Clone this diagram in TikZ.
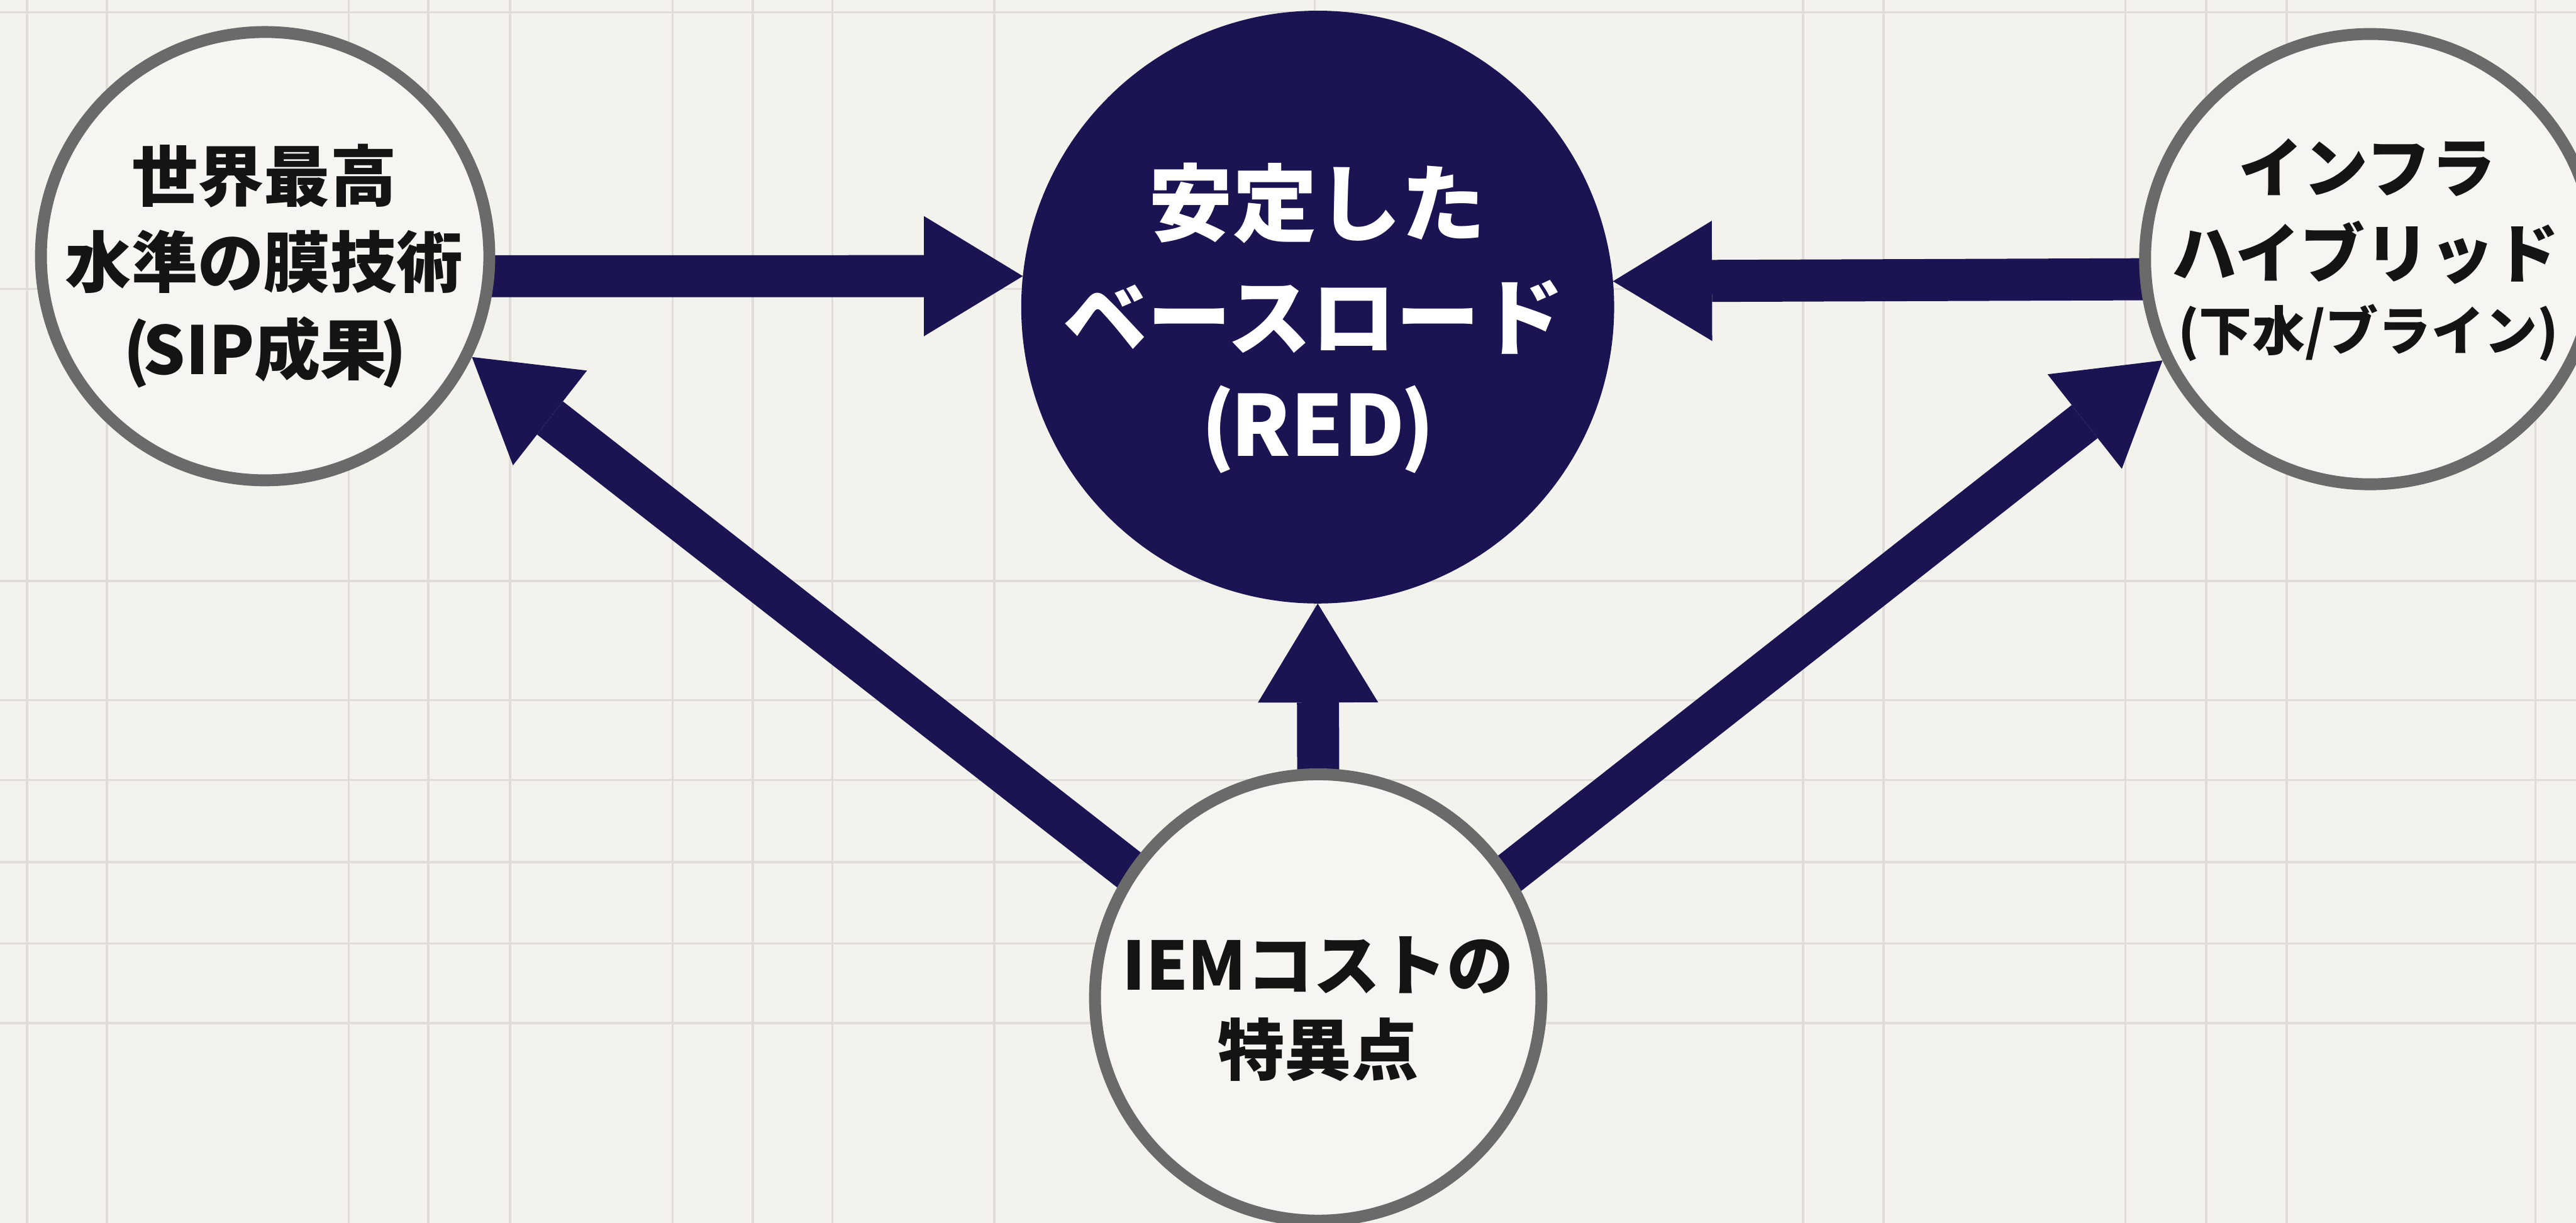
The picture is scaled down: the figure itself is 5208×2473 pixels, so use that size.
\documentclass[tikz,border=0pt]{standalone}
\usepackage{fontspec}
\setmainfont{Noto Sans CJK JP}
\usetikzlibrary{arrows.meta}
\definecolor{bg}{HTML}{F4F2ED}
\definecolor{gridc}{HTML}{E0DDD8}
\definecolor{navy}{HTML}{1B1452}
\definecolor{ringc}{HTML}{6A6A6A}
\definecolor{disc}{HTML}{F6F5F1}
\definecolor{ink}{HTML}{141414}
\pgfdeclarelayer{gridlayer}
\pgfdeclarelayer{arrowlayer}
\pgfsetlayers{gridlayer,arrowlayer,main}
\begin{document}
\begin{tikzpicture}[x=0.01cm,y=-0.01cm,
  ringnode/.style={circle, draw=ringc, fill=disc, line width=0.24cm, inner sep=0pt},
  hubnode/.style={circle, fill=navy, inner sep=0pt, outer sep=0pt},
  flow/.style={draw=navy, line width=0.85cm, shorten <=-0.4cm,
    -{Triangle[length=2cm,width=2.43cm,line width=0pt]}},
  gl/.style={draw=gridc, line width=0.045cm},
  lblS/.style={font=\fontsize{38.13pt}{40pt}\selectfont\bfseries, text=ink,
    text height=33.55pt, text depth=4.58pt, inner sep=0pt},
  lblR/.style={font=\fontsize{48.37pt}{50pt}\selectfont\bfseries, text=white,
    text height=42.57pt, text depth=5.80pt, inner sep=0pt},
  lblI/.style={font=\fontsize{37.27pt}{40pt}\selectfont\bfseries, text=ink,
    text height=32.80pt, text depth=4.47pt, inner sep=0pt},
  lblIs/.style={font=\fontsize{30.44pt}{32pt}\selectfont\bfseries, text=ink,
    text height=26.79pt, text depth=3.65pt, inner sep=0pt},
  lblE/.style={font=\fontsize{38.41pt}{40pt}\selectfont\bfseries, text=ink,
    text height=33.80pt, text depth=4.61pt, inner sep=0pt}
]
\useasboundingbox (0,0) rectangle (5208,2473);
\begin{pgfonlayer}{gridlayer}
\fill[bg] (0,0) rectangle (5208,2473);
\foreach \gx in {55,216,705,866,1031,1360,1522,1683,2010,2658,3645,3808,4297,4460,4623,5126}
  \draw[gl] (\gx,0) -- (\gx,2473);
\foreach \gy in {25,584,1175,1416,1577,1743,1908,2069}
  \draw[gl] (0,\gy) -- (5208,\gy);
\end{pgfonlayer}

\node[ringnode, minimum size=9.06cm] (sip) at (536,518) {};
\node[hubnode, minimum size=11.98cm] (red) at (2664,621) {};
\node[ringnode, minimum size=9.10cm] (infra) at (4792,524) {};
\node[ringnode, minimum size=9.02cm] (iem) at (2665,2017) {};

\begin{pgfonlayer}{arrowlayer}
\draw[flow] (sip.-5.8) -- (red.174.6);
\draw[flow] (infra.185) -- (red.5.4);
\draw[flow] (iem.north) -- (red.south);
\draw[flow] (iem.146.8) -- (sip.-26.2);
\draw[flow] (iem.33.2) -- (infra.206.2);
\end{pgfonlayer}

\node[lblS] (sip1) at (534,355) {世界最高};
\node[lblS] (sip2) at (534,530) {水準の膜技術};
\node[lblS] (sip3) at (536,706) {(\kern-0.1em SIP成果\kern-0.1em)};
\node[lblR] (red1) at (2663,410) {安定した};
\node[lblR] (red2) at (2656,640) {ベースロード};
\node[lblR] (red3) at (2665,858) {(\kern-0.05em RED\kern-0.05em)};
\node[lblI] (inf1) at (4786,338) {インフラ};
\node[lblI] (inf2) at (4783,512) {ハイブリッド};
\node[lblIs] (inf3) at (4788,668) {(下水/ブライン)};
\node[lblE] (iem1) at (2665,1950) {IEMコストの};
\node[lblE] (iem2) at (2665,2122) {特異点};
\end{tikzpicture}
\end{document}
